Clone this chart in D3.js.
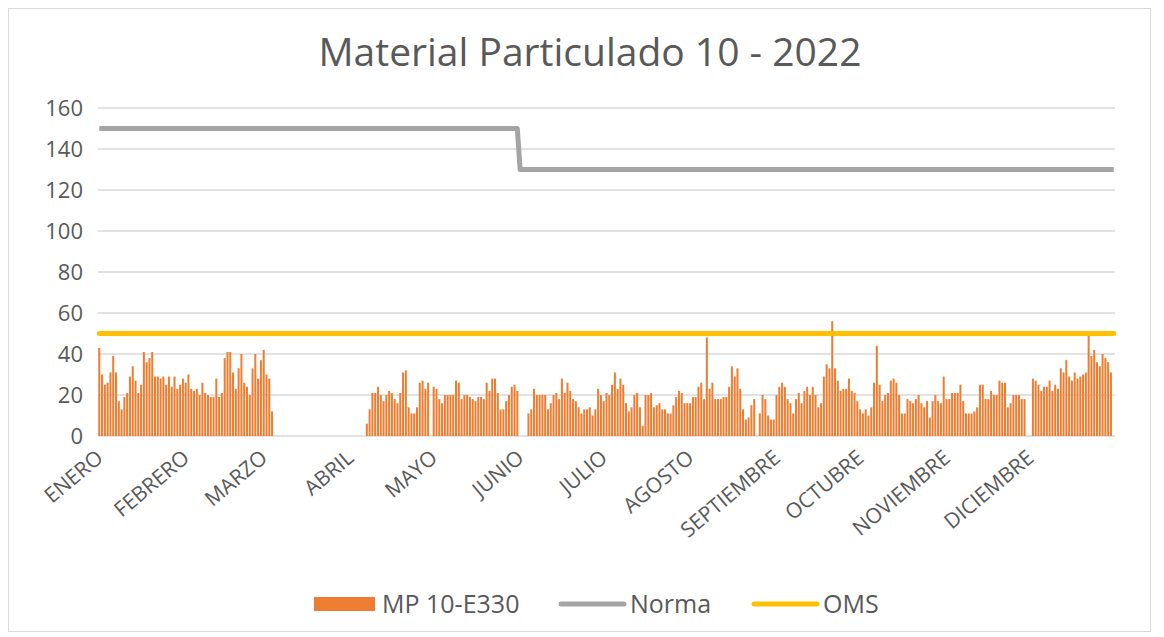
<!DOCTYPE html>
<html>
<head>
<meta charset="utf-8">
<script src="https://cdn.jsdelivr.net/npm/d3@7"></script>
<style>
  body { margin: 0; background: #fff; }
  svg { display: block; }
  text { font-family: "Open Sans", sans-serif; fill: #595959; }
</style>
</head>
<body>
<div id="chart"></div>
<script>
// Nombres de los meses (etiquetas del eje x)
const meses = ["ENERO", "FEBRERO", "MARZO", "ABRIL", "MAYO", "JUNIO", "JULIO",
  "AGOSTO", "SEPTIEMBRE", "OCTUBRE", "NOVIEMBRE", "DICIEMBRE"];

// MP 10-E330, valores diarios por mes (null = sin dato)
const enero = [43, 30, 25, 26, 31, 39, 31, 17, 13, 19, 21, 29, 34, 27, 21, 25, 41, 36, 38, 41, 29, 29, 28, 29, 25, 29, 24, 29, 23, 25, 28];
const febrero = [26, 30, 23, 22, 23, 20, 26, 21, 20, 19, 19, 28, 19, 21, 38, 41, 41, 31, 23, 33, 40, 26, 24, 20, 33, 40, 28, 37];
const marzo = [42, 30, 28, 12, null, null, null, null, null, null, null, null, null, null, null, null, null, null, null, null, null, null, null, null, null, null, null, null, null, null, null];
const abril = [null, null, null, null, null, null, 6, 13, 21, 21, 24, 20, 17, 20, 22, 21, 18, 16, 21, 31, 32, 14, 11, 11, 14, 26, 27, 23, 26, null];
const mayo = [24, 23, 18, 16, 20, 20, 20, 20, 27, 26, 18, 20, 20, 19, 18, 17, 19, 19, 18, 26, 22, 28, 28, 21, 13, 13, 17, 20, 24, 25, 22];
const junio = [null, null, null, 11, 13, 23, 20, 20, 20, 20, 13, 16, 20, 21, 18, 28, 21, 26, 22, 18, 17, 14, 11, 13, 13, 14, 10, 13, 23, 20];
const julio = [17, 21, 20, 25, 31, 23, 28, 25, 16, 12, 14, 20, 21, 14, 5, 20, 20, 21, 14, 15, 16, 13, 13, 11, 11, 15, 19, 22, 21, 16, 16];
const agosto = [16, 19, 19, 24, 26, 18, 48, 23, 26, 18, 18, 18, 19, 19, 24, 34, 29, 33, 23, 13, 8, 9, 15, 18, null, 11, 20, 18, 10, 8, 8];
const septiembre = [20, 24, 26, 24, 18, 16, 11, 18, 21, 16, 22, 24, 20, 24, 20, 14, 16, 29, 35, 33, 56, 33, 27, 22, 23, 23, 28, 22, 21, 17];
const octubre = [13, 11, 13, 10, 14, 26, 44, 25, 17, 20, 21, 27, 28, 26, 20, 11, 11, 18, 17, 16, 18, 20, 16, 14, 17, 9, 17, 20, 17, 16, 29];
const noviembre = [18, 18, 21, 21, 21, 25, 17, 11, 11, 11, 12, 14, 25, 25, 18, 18, 22, 20, 20, 27, 26, 26, 14, 16, 20, 20, 20, 18, 18, null];
const diciembre = [null, 28, 27, 25, 22, 24, 24, 27, 22, 25, 23, 33, 31, 37, 29, 27, 31, 28, 29, 30, 31, 49, 39, 42, 36, 34, 40, 38, 36, 31, null];

// Límites por mes
const normaMensual = [150, 150, 150, 150, 150, 130, 130, 130, 130, 130, 130, 130];
const omsMensual = [50, 50, 50, 50, 50, 50, 50, 50, 50, 50, 50, 50];

const yTicks = [0, 20, 40, 60, 80, 100, 120, 140, 160];

const width = 1164;
const height = 637;
const marginTop = 108;
const marginRight = 49;
const marginBottom = 201;
const marginLeft = 98;

// Armar la serie diaria
const valoresMes = [enero, febrero, marzo, abril, mayo, junio, julio, agosto, septiembre, octubre, noviembre, diciembre];
const dias = [];
valoresMes.forEach((vals, m) => {
  vals.forEach((v, i) => {
    dias.push({ idx: dias.length, mes: m, dia: i, valor: v, norma: normaMensual[m], oms: omsMensual[m] });
  });
});
const iniciosMes = dias.filter(d => d.dia === 0).map(d => d.idx);

const x = d3.scaleBand()
  .domain(dias.map(d => d.idx))
  .range([marginLeft, width - marginRight])
  .paddingInner(0.28)
  .paddingOuter(0.1);

const y = d3.scaleLinear()
  .domain([0, 160])
  .range([height - marginBottom, marginTop]);

const cx = d => x(d.idx) + x.bandwidth() / 2;

const svg = d3.select("#chart").append("svg")
  .attr("width", width)
  .attr("height", height);

// marco del gráfico
svg.append("rect")
  .attr("x", 8.5).attr("y", 8.5)
  .attr("width", 1142).attr("height", 623)
  .attr("fill", "#fff")
  .attr("stroke", "#D9D9D9");

// título
svg.append("text")
  .attr("x", 590).attr("y", 66)
  .attr("text-anchor", "middle")
  .style("font-size", "39px")
  .text("Material Particulado 10 - 2022");

// líneas de grilla
svg.append("g")
  .selectAll("line")
  .data(yTicks)
  .join("line")
  .attr("x1", marginLeft).attr("x2", width - marginRight)
  .attr("y1", d => y(d)).attr("y2", d => y(d))
  .attr("stroke", "#D9D9D9")
  .attr("stroke-width", 1.5);

// eje y
const gy = svg.append("g")
  .attr("transform", `translate(${marginLeft - 15},0)`)
  .call(d3.axisLeft(y).tickValues(yTicks).tickSize(0));
gy.select(".domain").remove();
gy.selectAll("text")
  .attr("x", 0)
  .style("font-size", "22px")
  .style("font-family", "'Open Sans', sans-serif")
  .attr("fill", "#595959");

// eje x con los meses
const gx = svg.append("g")
  .attr("transform", `translate(-5,${height - marginBottom + 12})`)
  .call(d3.axisBottom(x).tickValues(iniciosMes).tickFormat(i => meses[dias[i].mes]).tickSize(0));
gx.select(".domain").remove();
gx.selectAll("text")
  .attr("x", 0).attr("y", 0).attr("dy", "0.75em")
  .attr("text-anchor", "end")
  .attr("transform", "rotate(-40)")
  .style("font-size", "21px")
  .style("font-family", "'Open Sans', sans-serif")
  .attr("fill", "#595959");

// barras
svg.append("g")
  .selectAll("rect")
  .data(dias.filter(d => d.valor != null))
  .join("rect")
  .attr("x", d => x(d.idx))
  .attr("y", d => y(d.valor))
  .attr("width", x.bandwidth())
  .attr("height", d => y(0) - y(d.valor))
  .attr("fill", "#ED7D31");

// líneas Norma y OMS
const lineNorma = d3.line().x(cx).y(d => y(d.norma));
const lineOms = d3.line().x(cx).y(d => y(d.oms));

svg.append("path")
  .datum(dias)
  .attr("d", lineNorma)
  .attr("fill", "none")
  .attr("stroke", "#A5A5A5")
  .attr("stroke-width", 5)
  .attr("stroke-linejoin", "round");

svg.append("path")
  .datum(dias)
  .attr("d", lineOms)
  .attr("fill", "none")
  .attr("stroke", "#FFC000")
  .attr("stroke-width", 5)
  .attr("stroke-linecap", "round");

// leyenda
const leyenda = [
  { nombre: "MP 10-E330", tipo: "bar", color: "#ED7D31", x: 314 },
  { nombre: "Norma", tipo: "line", color: "#A5A5A5", x: 558 },
  { nombre: "OMS", tipo: "line", color: "#FFC000", x: 751 }
];
const gl = svg.append("g");
leyenda.forEach(l => {
  if (l.tipo === "bar") {
    gl.append("rect").attr("x", l.x).attr("y", 597).attr("width", 61).attr("height", 14).attr("fill", l.color);
  } else {
    gl.append("line").attr("x1", l.x + 3).attr("x2", l.x + 66).attr("y1", 604).attr("y2", 604)
      .attr("stroke", l.color).attr("stroke-width", 5).attr("stroke-linecap", "round");
  }
  gl.append("text")
    .attr("x", l.x + (l.tipo === "bar" ? 68 : 72))
    .attr("y", 604).attr("dy", "0.35em")
    .style("font-size", "25px")
    .text(l.nombre);
});
</script>
</body>
</html>
